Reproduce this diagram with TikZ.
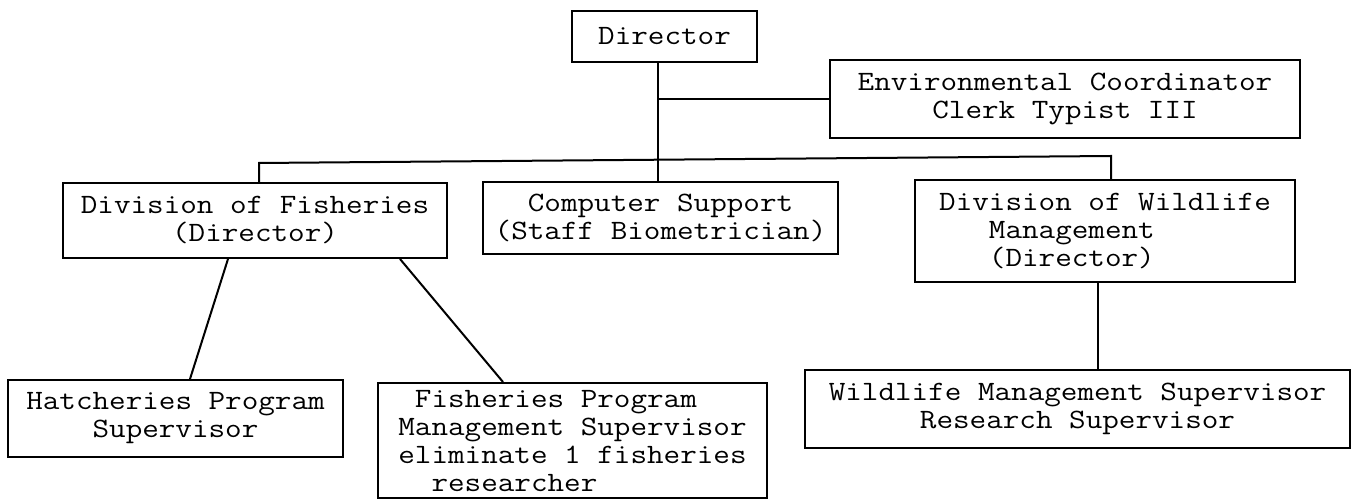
\documentclass[tikz,border=0pt]{standalone}
\usepackage{fontspec}
\newfontfamily\typefont{Latin Modern Mono}[FakeStretch=1.15]
\newcommand{\orgfont}{\typefont\fontsize{14pt}{14pt}\selectfont}

\begin{document}
\begin{tikzpicture}[line width=1pt, unit/.style={draw, inner sep=0pt, align=center, font=\orgfont}]
\useasboundingbox (0pt,0pt) rectangle (676.5pt,-250.5pt);
\draw (332.25pt, -18.25pt)node[unit, minimum width=92.5pt, minimum height=25.5pt](0){Director};
\draw (532.5pt, -49.5pt)node[unit, minimum width=235pt, minimum height=39pt](1){Environmental Coordinator\\Clerk Typist III};
\draw (127.5pt, -110.25pt)node[unit, minimum width=192pt, minimum height=37.5pt](2){Division of Fisheries\\(Director)};
\draw (330.25pt, -109pt)node[unit, minimum width=177.5pt, minimum height=36pt](3){Computer Support\\(Staff Biometrician)};
\draw (552.5pt, -115.5pt)node[unit, align=left, minimum width=190pt, minimum height=51pt](4){Division of Wildlife\\\phantom{000}Management\\\phantom{000}(Director)};
\draw (87.75pt, -209.25pt)node[unit, minimum width=167.5pt, minimum height=38.5pt](5){Hatcheries Program\\Supervisor};
\draw (286.25pt, -220.25pt)node[unit, align=left, minimum width=194.5pt, minimum height=57.5pt](6){\phantom{0}Fisheries Program\\Management Supervisor\\eliminate 1 fisheries\\\phantom{00}researcher};
\draw (538.75pt, -204.5pt)node[unit, minimum width=272.5pt, minimum height=39pt](7){Wildlife Management Supervisor\\Research Supervisor};
\coordinate (busL) at (129.5pt, -81.5pt);
\coordinate (busR) at (555.5pt, -78pt);
\draw (busL |- 2.north) -- (busL) -- (busR) -- (busR |- 4.north);
\draw ([xshift=-3.25pt]0.south) -- ([xshift=-3.25pt]0.south |- 3.north);
\draw ([xshift=-3.25pt]0.south |- 1.west) -- (1.west);
\path ([xshift=-13.5pt]2.south) edge ([xshift=7.25pt]5.north);
\path ([xshift=72.5pt]2.south) edge ([xshift=-34.75pt]6.north);
\draw ([xshift=-3.5pt]4.south) -- ([xshift=-3.5pt]4.south |- 7.north);
\end{tikzpicture}
\end{document}
